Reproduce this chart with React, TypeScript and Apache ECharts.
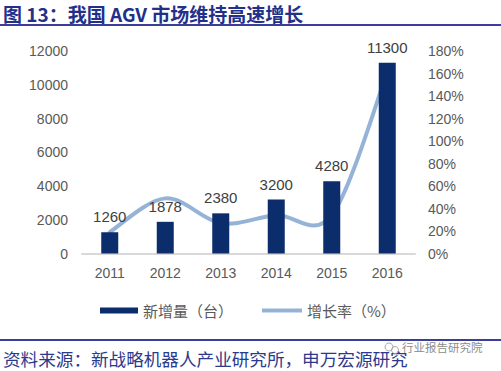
import React, { useEffect, useRef } from "react";
import * as echarts from "echarts";

const years = ["2011", "2012", "2013", "2014", "2015", "2016"];
const newUnits = [1260, 1878, 2380, 3200, 4280, 11300];
const growthRate = [19, 49, 27, 34, 34, 161];
const leftTicks = { min: 0, max: 12000, interval: 2000 };
const rightTicks = { min: 0, max: 180, interval: 20 };
const titleText = "图 13：我国 AGV 市场维持高速增长";
const sourceText = "资料来源：新战略机器人产业研究所，申万宏源研究";
const watermarkText = "行业报告研究院";
const barName = "新增量（台）";
const lineName = "增长率（%）";

const FONT = "'Liberation Sans', Arial, 'Noto Sans CJK SC', sans-serif";
const CJK = "'Noto Sans CJK SC', 'Liberation Sans', sans-serif";
const LINE_COLOR = "#95B3D7";
const BAR_COLOR = "#0B2D6B";

// Excel-like Catmull-Rom smoothing (control points at 1/6 of neighbour vector)
function smoothPath(pts: number[][]): string {
  if (!pts.length) return "";
  let d = `M${pts[0][0]},${pts[0][1]}`;
  for (let i = 0; i < pts.length - 1; i++) {
    const p0 = pts[i - 1] || pts[i];
    const p1 = pts[i];
    const p2 = pts[i + 1];
    const p3 = pts[i + 2] || p2;
    const c1x = p1[0] + (p2[0] - p0[0]) / 6;
    const c1y = p1[1] + (p2[1] - p0[1]) / 6;
    const c2x = p2[0] - (p3[0] - p1[0]) / 6;
    const c2y = p2[1] - (p3[1] - p1[1]) / 6;
    d += ` C${c1x},${c1y} ${c2x},${c2y} ${p2[0]},${p2[1]}`;
  }
  return d;
}

export default function App() {
  const ref = useRef<HTMLDivElement>(null);
  useEffect(() => {
    if (!ref.current) return;
    const chart = echarts.init(ref.current, null, { renderer: "svg" });
    chart.setOption({
      animation: false,
      backgroundColor: "#ffffff",
      grid: { left: 82, right: 86, top: 51, bottom: 117.5, containLabel: false },
      legend: [
        {
          left: 100,
          top: 303,
          padding: 0,
          itemWidth: 38,
          itemHeight: 6,
          textStyle: { fontSize: 15, color: "#595959", fontFamily: CJK },
          data: [{ name: barName, icon: "rect" }],
        },
        {
          left: 262,
          top: 303,
          padding: 0,
          itemWidth: 40,
          itemHeight: 4,
          textStyle: { fontSize: 15, color: "#595959", fontFamily: CJK },
          data: [{ name: lineName, icon: "rect", itemStyle: { color: LINE_COLOR } }],
        },
      ],
      xAxis: {
        type: "category",
        data: years,
        axisLine: { lineStyle: { color: "#D9D9D9", width: 2 } },
        axisTick: { show: false },
        axisLabel: { color: "#595959", fontSize: 14, fontFamily: FONT, margin: 12 },
      },
      yAxis: [
        {
          type: "value",
          min: leftTicks.min,
          max: leftTicks.max,
          interval: leftTicks.interval,
          axisLine: { show: false },
          axisTick: { show: false },
          splitLine: { show: false },
          axisLabel: {
            color: "#595959",
            fontSize: 14,
            fontFamily: FONT,
            margin: 14,
            formatter: (v: number) => String(v),
          },
        },
        {
          type: "value",
          min: rightTicks.min,
          max: rightTicks.max,
          interval: rightTicks.interval,
          axisLine: { show: false },
          axisTick: { show: false },
          splitLine: { show: false },
          axisLabel: {
            color: "#595959",
            fontSize: 14,
            fontFamily: FONT,
            margin: 13,
            formatter: "{value}%",
          },
        },
      ],
      series: [
        {
          name: barName,
          type: "bar",
          data: newUnits,
          barWidth: 17,
          itemStyle: { color: BAR_COLOR },
          label: {
            show: true,
            position: "top",
            distance: 8,
            color: "#404040",
            fontSize: 15,
            fontFamily: FONT,
          },
        },
        {
          name: lineName,
          type: "custom",
          yAxisIndex: 1,
          data: growthRate.map((v, i) => [i, v]),
          itemStyle: { color: LINE_COLOR },
          encode: { x: 0, y: 1 },
          renderItem: (params: any, api: any) => {
            if (params.dataIndex !== 0) return null;
            const pts = growthRate.map((v, i) => api.coord([i, v]));
            return {
              type: "path",
              shape: { pathData: smoothPath(pts) },
              style: { fill: "none", stroke: LINE_COLOR, lineWidth: 4, lineCap: "round" },
            };
          },
        },
      ],
      graphic: [
        {
          type: "text",
          left: 3,
          top: 4,
          style: {
            text: titleText,
            fontSize: 19,
            fontWeight: "bold",
            fill: "#23308A",
            fontFamily: CJK,
          },
        },
        {
          type: "line",
          shape: { x1: 0, y1: 25, x2: 501, y2: 25 },
          style: { stroke: "#3C3F9A", lineWidth: 2 },
        },
        {
          type: "line",
          shape: { x1: 0, y1: 340, x2: 501, y2: 340 },
          style: { stroke: "#3C3F9A", lineWidth: 2 },
        },
        {
          type: "text",
          left: 3,
          top: 350,
          style: {
            text: sourceText,
            fontSize: 17.6,
            fill: "#2B3A8C",
            fontFamily: CJK,
          },
        },
        {
          type: "circle",
          shape: { cx: 389, cy: 347, r: 4 },
          style: { fill: "none", stroke: "#AAAAAA", lineWidth: 1 },
        },
        {
          type: "circle",
          shape: { cx: 395, cy: 350, r: 3.5 },
          style: { fill: "none", stroke: "#AAAAAA", lineWidth: 1 },
        },
        {
          type: "text",
          left: 402,
          top: 341,
          style: {
            text: watermarkText,
            fontSize: 11.5,
            fill: "#8C8C8C",
            fontFamily: CJK,
          },
        },
      ],
    });
    return () => chart.dispose();
  }, []);
  return <div ref={ref} style={{ width: 501, height: 371, position: "absolute", left: 0, top: 0 }} />;
}
